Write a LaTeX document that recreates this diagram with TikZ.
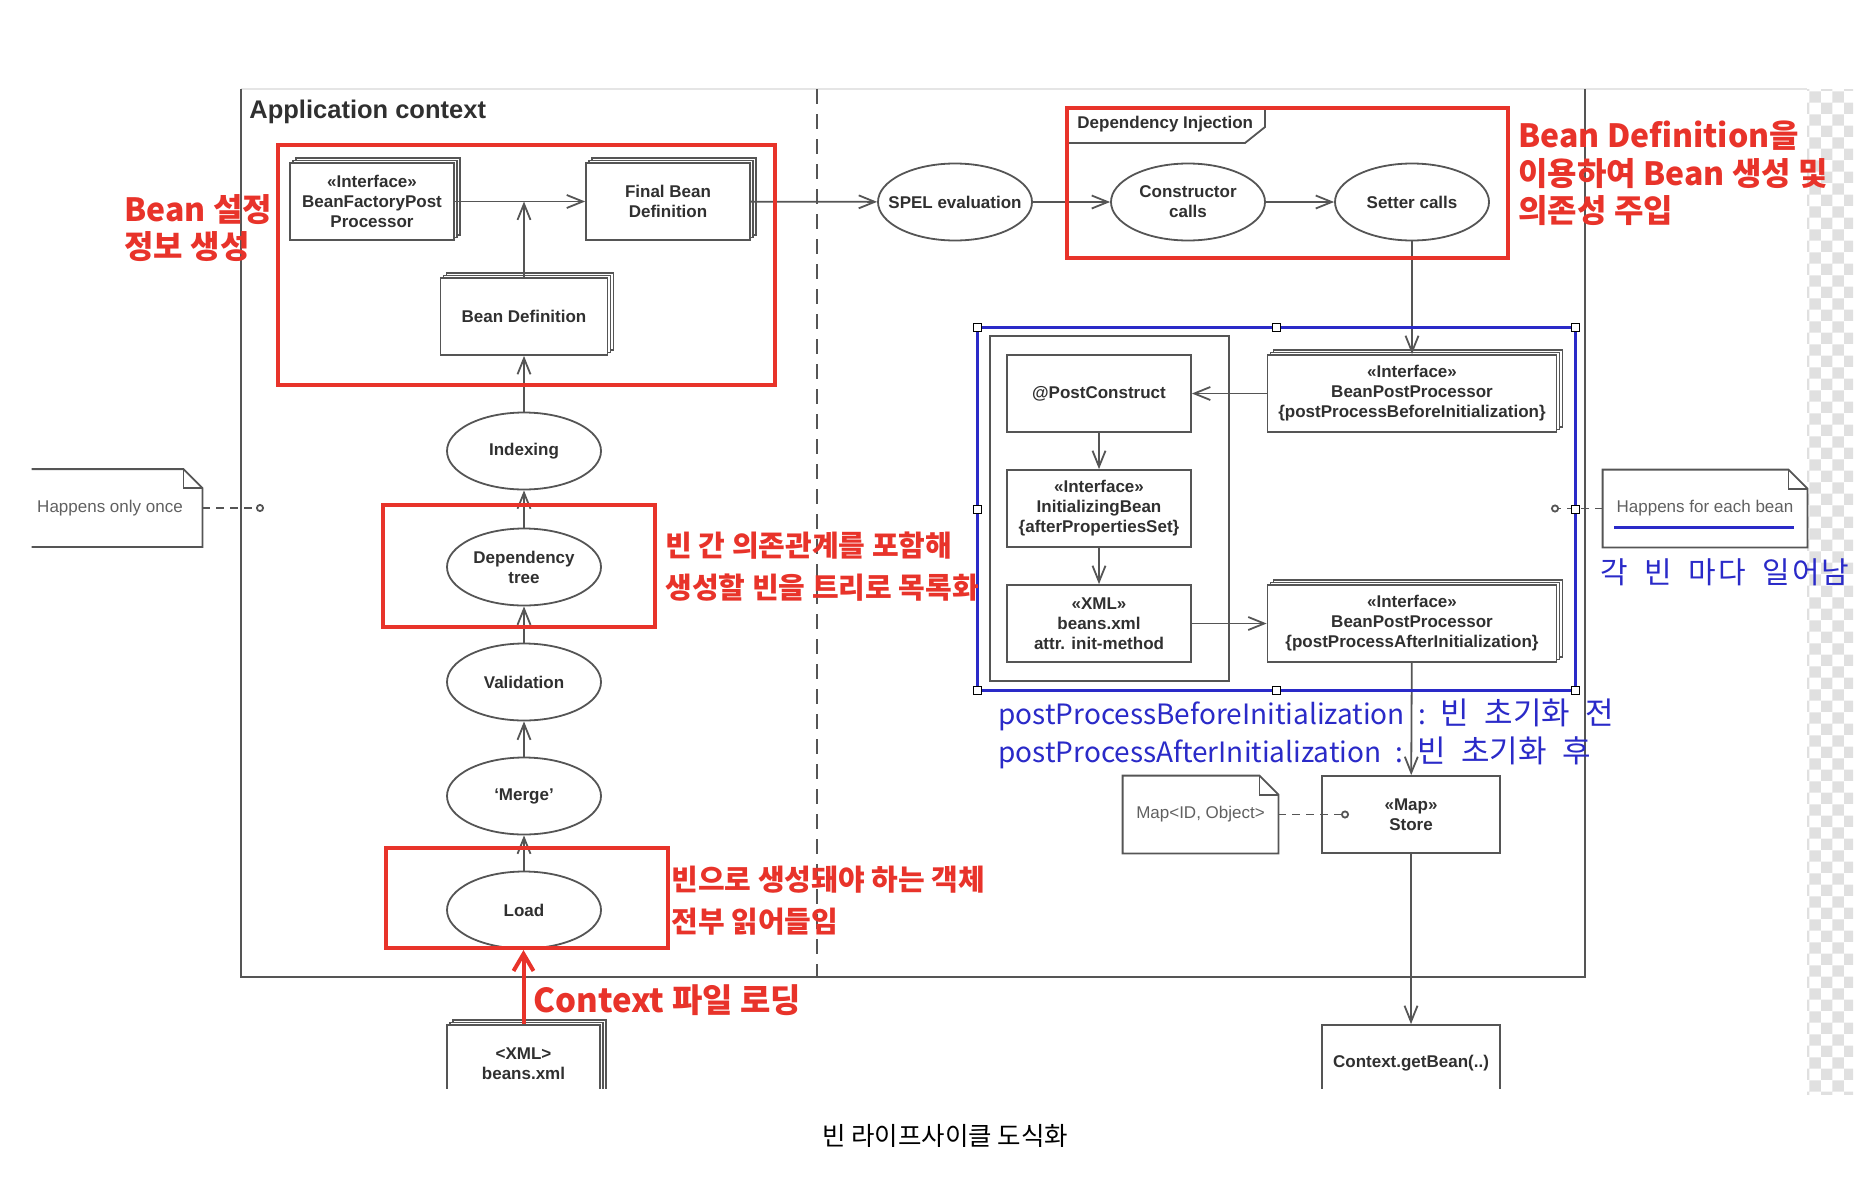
\documentclass[tikz,border=0pt]{standalone}
\usepackage{fontspec}
\setmainfont{Liberation Sans}
\newfontfamily\kr{Noto Sans CJK KR}
\usetikzlibrary{arrows.meta,shapes.geometric,shadows,patterns}

\definecolor{linegray}{HTML}{555555}
\definecolor{textgray}{HTML}{303030}
\definecolor{notegray}{HTML}{606060}
\definecolor{markred}{HTML}{E8332A}
\definecolor{markblue}{HTML}{2A2AC8}

\begin{document}
\begin{tikzpicture}[x=0.5pt, y=-0.5pt,
		>={Straight Barb[length=8pt,width=6.5pt]},
		grayline/.style={draw=linegray, line width=0.9pt},
		flow/.style={grayline, ->},
		boxnode/.style={grayline, fill=white, rectangle, inner sep=0pt, minimum height=38.5pt, align=center, text=textgray, font=\bfseries\fontsize{8.5pt}{10pt}\selectfont},
		stackbox/.style={boxnode,
			general shadow={shadow xshift=3pt, shadow yshift=2.5pt, fill=white, draw=linegray, line width=0.9pt},
			general shadow={shadow xshift=1.5pt, shadow yshift=1.25pt, fill=white, draw=linegray, line width=0.9pt}},
		usecase/.style={grayline, fill=white, ellipse, inner xsep=-10pt, inner ysep=0pt, minimum width=77pt, minimum height=38.5pt, align=center, text=textgray, font=\bfseries\fontsize{8.5pt}{10pt}\selectfont},
		notebox/.style={inner sep=0pt, minimum height=38.5pt, text=notegray, font=\fontsize{8.5pt}{10pt}\selectfont},
		notelink/.style={grayline, dash pattern=on 4pt off 3pt, -{Circle[open,length=4pt]}},
		redbox/.style={draw=markred, line width=2pt, rectangle, inner sep=0pt},
		rednote/.style={text=markred, anchor=west, align=left, inner sep=0pt},
		handle/.style={draw=black, fill=white, line width=0.5pt, rectangle, minimum size=4pt, inner sep=0pt}
	]
	\useasboundingbox (0,0) rectangle (1872,1194);

	% Macro for a note with a folded corner.
	% Usage: \drawnote{node name}
	\newcommand{\drawnote}[1]{
		\draw[grayline] (#1.north west) -- ([xshift=-9.5pt]#1.north east) -- ([yshift=-9.5pt]#1.north east) -- (#1.south east) -- (#1.south west) -- cycle;
		\draw[grayline] ([xshift=-9.5pt]#1.north east) |- ([yshift=-9.5pt]#1.north east);
	}

	% Screenshot strip and frame of the application context
	\fill[pattern=checkerboard, pattern color=black!12] (1807,89) rectangle (1853,1094);
	\draw[black!10, line width=0.6pt] (241,89) -- (1807,89);
	\draw[grayline] (241,89) -- (241,977) -- (1585,977) -- (1585,89);
	\draw[grayline, dash pattern=on 7.5pt off 5pt] (817,89) -- (817,977);
	\node[anchor=base west, inner sep=0pt, text=textgray, font=\bfseries\fontsize{12.75pt}{15pt}\selectfont] (ctxtitle) at (249,118) {Application context};

	% Bean definition stage
	\node[stackbox, minimum width=82pt] (bfpp) at (372,201.5) {«Interface»\\BeanFactoryPost\\Processor};
	\node[stackbox, minimum width=82pt] (finaldef) at (668,201.5) {Final Bean\\Definition};
	\node[stackbox, minimum width=83.5pt] (beandef) at (524,316.5) {Bean Definition};
	\node[usecase] (indexing) at (524,451) {Indexing};
	\node[usecase] (deptree) at (524,567) {Dependency\\tree};
	\node[usecase] (validation) at (524,682) {Validation};
	\node[usecase] (merge) at (524,796) {‘Merge’};
	\node[usecase] (load) at (524,910) {Load};

	% Dependency injection and initialization
	\node[usecase] (spel) at (955,202) {SPEL evaluation};
	\node[usecase] (ctor) at (1188,202) {Constructor\\calls};
	\node[usecase] (setter) at (1412,202) {Setter calls};
	\draw[grayline] (1067,143) -- (1245,143) -- (1265,127) -- (1265,108);
	\node[anchor=west, inner sep=0pt, text=textgray, font=\bfseries\fontsize{8.5pt}{10pt}\selectfont] (dilabel) at (1077,124) {Dependency Injection};

	\draw[grayline] (990,336) rectangle (1229,681);
	\node[boxnode, minimum width=92pt] (postconstruct) at (1099,393.5) {@PostConstruct};
	\node[boxnode, minimum width=92pt] (initbean) at (1099,508.5) {«Interface»\\InitializingBean\\\{afterPropertiesSet\}};
	\node[boxnode, minimum width=92pt] (xmlinit) at (1099,623.5) {«XML»\\beans.xml\\attr. init-method};
	\node[stackbox, minimum width=144.5pt] (bppbefore) at (1412,393.5) {«Interface»\\BeanPostProcessor\\\{postProcessBeforeInitialization\}};
	\node[stackbox, minimum width=144.5pt] (bppafter) at (1412,623.5) {«Interface»\\BeanPostProcessor\\\{postProcessAfterInitialization\}};
	\node[boxnode, minimum width=89pt] (store) at (1411,814.5) {«Map»\\Store};

	% Boxes cut off at the lower edge of the screenshot
	\begin{scope}
		\clip (0,0) rectangle (1872,1088);
		\node[stackbox, minimum width=76.5pt] (beansxml) at (523.5,1063.5) {<XML>\\beans.xml};
		\node[boxnode, minimum width=89pt] (getbean) at (1411,1063.5) {Context.getBean(..)};
	\end{scope}

	% Notes
	\node[notebox, minimum width=85pt] (oncenote) at (117,508) {Happens only once\kern7pt};
	\draw[grayline] (oncenote.north west) -- ([xshift=-9.5pt]oncenote.north east) -- ([yshift=-9.5pt]oncenote.north east) -- (oncenote.south east) -- (oncenote.south west);
	\draw[grayline] ([xshift=-9.5pt]oncenote.north east) |- ([yshift=-9.5pt]oncenote.north east);
	\node[notebox, minimum width=102pt] (eachnote) at (1705,508.5) {Happens for each bean};
	\drawnote{eachnote}
	\draw[markblue, line width=1.5pt] (1614,527) -- (1794,527);
	\node[notebox, minimum width=77.5pt] (mapnote) at (1200.5,814.5) {Map<ID, Object>};
	\drawnote{mapnote}

	\coordinate (oncepin) at (264,508);
	\coordinate (eachpin) at (1551,508.5);
	\coordinate (mappin) at (1349,814.5);
	\draw[notelink] (oncenote) -- (oncepin);
	\draw[notelink] (eachnote) -- (eachpin);
	\draw[notelink] (mapnote) -- (mappin);

	% Connectors
	\coordinate (defjoin) at (beandef.north |- bfpp.east);
	\draw[flow] (bfpp) -- (finaldef);
	\draw[flow] (beandef) -- (defjoin);
	\draw[flow] (indexing) -- (beandef);
	\draw[flow] (deptree) -- (indexing);
	\draw[flow] (validation) -- (deptree);
	\draw[flow] (merge) -- (validation);
	\draw[flow] (load) -- (merge);
	\draw[flow] (finaldef) -- (spel);
	\draw[flow] (spel) -- (ctor);
	\draw[flow] (ctor) -- (setter);
	\draw[flow] (setter) -- (bppbefore);
	\draw[flow] (bppbefore) -- (postconstruct);
	\draw[flow] (postconstruct) -- (initbean);
	\draw[flow] (initbean) -- (xmlinit);
	\draw[flow] (xmlinit) -- (bppafter);
	\draw[flow] (bppafter) -- (store);
	\draw[flow] (store) -- (getbean);

	% Selection around the per-bean part
	\draw[markblue, line width=1.5pt] (977,327) rectangle (1575,690);
	\foreach \hx/\hy [count=\i] in {977/327, 1276/327, 1575/327, 977/509, 1575/509, 977/690, 1276/690, 1575/690}
		\node[handle] (handle\i) at (\hx,\hy) {};

	% Red highlights
	\node[redbox, minimum width=248.5pt, minimum height=120pt] (defbox) at (526.5,265) {};
	\node[redbox, minimum width=136pt, minimum height=61pt] (treebox) at (519,566) {};
	\node[redbox, minimum width=141pt, minimum height=50pt] (loadbox) at (527,898) {};
	\node[redbox, minimum width=220.5pt, minimum height=75pt] (dibox) at (1287.5,183) {};
	\draw[markred, line width=2pt, -{Straight Barb[length=8.5pt,width=10pt]}] (beansxml.north) -- (beansxml.north |- loadbox.south);

	\node[rednote, font=\kr\bfseries\fontsize{16pt}{18.5pt}\selectfont] (setupnote) at (124,228.5) {Bean 설정\\정보 생성};
	\node[rednote, font=\kr\bfseries\fontsize{16pt}{18.75pt}\selectfont] (dinote) at (1518,173.5) {Bean Definition을\\이용하여 Bean 생성 및\\의존성 주입};
	\node[rednote, font=\kr\bfseries\fontsize{14.5pt}{21pt}\selectfont] (treenote) at (665,567) {빈 간 의존관계를 포함해\\생성할 빈을 트리로 목록화};
	\node[rednote, font=\kr\bfseries\fontsize{14.5pt}{21pt}\selectfont] (loadnote) at (671,901) {빈으로 생성돼야 하는 객체\\전부 읽어들임};
	\node[rednote, font=\kr\bfseries\fontsize{16.5pt}{18.5pt}\selectfont] (filenote) at (533,1000) {Context 파일 로딩};

	% Blue remarks
	\node[anchor=west, align=left, inner sep=0pt, text=markblue, font=\kr\fontsize{14pt}{19pt}\selectfont] (phasenote) at (998,734)
		{postProcessBeforeInitialization\enspace:\enspace{\fontsize{15.5pt}{19pt}\selectfont 빈\enspace 초기화\enspace 전}\\
		 postProcessAfterInitialization\enspace:\enspace{\fontsize{15.5pt}{19pt}\selectfont 빈\enspace 초기화\enspace 후}};
	\node[inner sep=0pt, text=markblue, font=\kr\fontsize{15pt}{18pt}\selectfont] (eachkr) at (1725,572)
		{각\hspace{0.55em}빈\hspace{0.55em}마\hspace{1pt}다\hspace{0.55em}일\hspace{1pt}어\hspace{1pt}남};

	% Caption
	\node[inner sep=0pt, font=\kr\fontsize{12.75pt}{15pt}\selectfont] (caption) at (945,1136) {빈 라이프사이클 도식화};
\end{tikzpicture}
\end{document}
